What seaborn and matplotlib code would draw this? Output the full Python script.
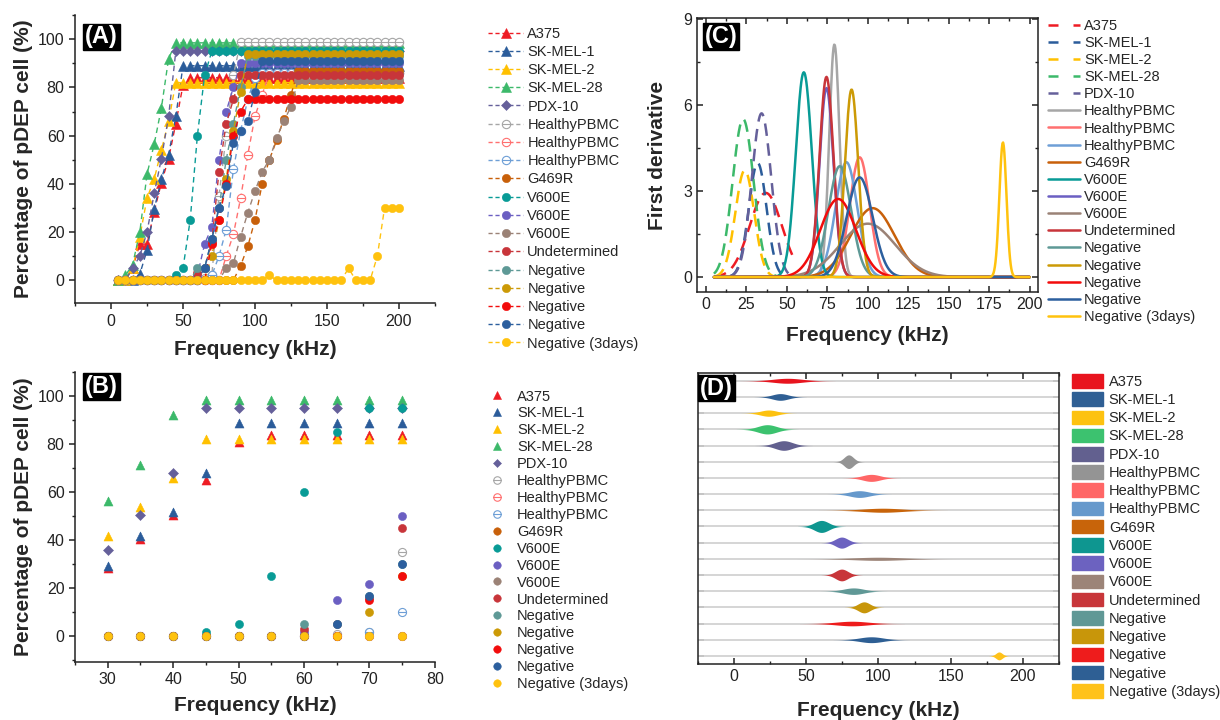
import numpy as np
import pandas as pd
import matplotlib
matplotlib.use("Agg")
import matplotlib.pyplot as plt
import matplotlib.path as mpath
from matplotlib.ticker import MultipleLocator, NullFormatter
from matplotlib.lines import Line2D
from matplotlib.patches import Patch
import seaborn as sns

sns.set_theme(style="ticks")
plt.rcParams["font.family"] = ["Liberation Sans", "DejaVu Sans"]
plt.rcParams["axes.linewidth"] = 1.1
plt.rcParams["axes.edgecolor"] = "#222222"
plt.rcParams["xtick.color"] = "#222222"
plt.rcParams["ytick.color"] = "#222222"
plt.rcParams["xtick.labelsize"] = 11.5
plt.rcParams["ytick.labelsize"] = 11.5

# ---------------- data ----------------
labels = ["A375", "SK-MEL-1", "SK-MEL-2", "SK-MEL-28", "PDX-10",
          "HealthyPBMC", "HealthyPBMC", "HealthyPBMC", "G469R",
          "V600E", "V600E", "V600E", "Undetermined",
          "Negative", "Negative", "Negative", "Negative", "Negative (3days)"]

freq = [5, 10, 15, 20, 25, 30, 35, 40, 45, 50, 55, 60, 65, 70, 75, 80, 85, 90, 95, 100,
        105, 110, 115, 120, 125, 130, 135, 140, 145, 150, 155, 160, 165, 170, 175, 180, 185, 190, 195, 200]

pct_a375 = [0, 0, 5, 15, 15, 28.5, 40.5, 50.5, 65, 81, 84, 84, 84, 84, 84, 84, 84, 84, 84, 84,
            84, 84, 84, 84, 84, 84, 84, 84, 84, 84, 84, 84, 84, 84, 84, 84, 84, 84, 84, 84]
pct_skmel1 = [0, 0, 0, 2.5, 12.5, 29.5, 42, 52, 68, 89, 89, 89, 89, 89, 89, 89, 89, 89, 89, 89,
              89, 89, 89, 89, 89, 89, 89, 89, 89, 89, 89, 89, 89, 89, 89, 89, 89, 89, 89, 89]
pct_skmel2 = [0, 0, 5, 18, 34, 42, 54, 66, 82, 82, 82, 82, 82, 82, 82, 82, 82, 82, 82, 82,
              82, 82, 82, 82, 82, 82, 82, 82, 82, 82, 82, 82, 82, 82, 82, 82, 82, 82, 82, 82]
pct_skmel28 = [0, 2, 6.5, 20, 44, 56.5, 71.5, 92, 98.5, 98.5, 98.5, 98.5, 98.5, 98.5, 98.5, 98.5, 98.5, 98.5, 98.5, 98.5,
               98.5, 98.5, 98.5, 98.5, 98.5, 98.5, 98.5, 98.5, 98.5, 98.5, 98.5, 98.5, 98.5, 98.5, 98.5, 98.5, 98.5, 98.5, 98.5, 98.5]
pct_pdx10 = [0, 0, 5, 10, 20, 36, 50.5, 68, 95, 95, 95, 95, 95, 95, 95, 95, 95, 95, 95, 95,
             95, 95, 95, 95, 95, 95, 95, 95, 95, 95, 95, 95, 95, 95, 95, 95, 95, 95, 95, 95]
pct_pbmc1 = [0, 0, 0, 0, 0, 0, 0, 0, 0, 0, 0, 0, 1, 2, 35, 60, 85, 99, 99, 99,
             99, 99, 99, 99, 99, 99, 99, 99, 99, 99, 99, 99, 99, 99, 99, 99, 99, 99, 99, 99]
pct_pbmc2 = [0, 0, 0, 0, 0, 0, 0, 0, 0, 0, 0, 0, 0, 0, 0, 10, 19, 34, 52, 68,
             77, 86, 86, 86, 86, 86, 86, 86, 86, 86, 86, 86, 86, 86, 86, 86, 86, 86, 86, 86]
pct_pbmc3 = [0, 0, 0, 0, 0, 0, 0, 0, 0, 0, 0, 0, 0, 2, 10, 21, 46, 62, 75, 84,
             86, 86, 86, 86, 86, 86, 86, 86, 86, 86, 86, 86, 86, 86, 86, 86, 86, 86, 86, 86]
pct_g469r = [0, 0, 0, 0, 0, 0, 0, 0, 0, 0, 0, 0, 0, 0, 0, 0, 0, 6, 14, 25,
             40, 50, 58, 67, 77, 87, 87, 87, 87, 87, 87, 87, 87, 87, 87, 87, 87, 87, 87, 87]
pct_v600e1 = [0, 0, 0, 0, 0, 0, 0, 0, 2, 5, 25, 60, 85, 95, 95, 95, 95, 95, 95, 95,
              95, 95, 95, 95, 95, 95, 95, 95, 95, 95, 95, 95, 95, 95, 95, 95, 95, 95, 95, 95]
pct_v600e2 = [0, 0, 0, 0, 0, 0, 0, 0, 0, 0, 0, 2, 15, 22, 50, 70, 80, 90, 90, 90,
              90, 90, 90, 90, 90, 90, 90, 90, 90, 90, 90, 90, 90, 90, 90, 90, 90, 90, 90, 90]
pct_v600e3 = [0, 0, 0, 0, 0, 0, 0, 0, 0, 0, 0, 0, 0, 0, 0, 5, 7, 18, 28, 37,
              45, 50, 59, 66, 72, 83, 83, 83, 83, 83, 83, 83, 83, 83, 83, 83, 83, 83, 83, 83]
pct_undet = [0, 0, 0, 0, 0, 0, 0, 0, 0, 0, 0, 3, 5, 16, 45, 65, 75, 85, 85, 85,
             85, 85, 85, 85, 85, 85, 85, 85, 85, 85, 85, 85, 85, 85, 85, 85, 85, 85, 85, 85]
pct_neg1 = [0, 0, 0, 0, 0, 0, 0, 0, 0, 0, 0, 5, 5, 17, 30, 50, 65, 80, 93, 93,
            93, 93, 93, 93, 93, 93, 93, 93, 93, 93, 93, 93, 93, 93, 93, 93, 93, 93, 93, 93]
pct_neg2 = [0, 0, 0, 0, 0, 0, 0, 0, 0, 0, 0, 0, 0, 10, 25, 42, 62, 78, 94, 94,
            94, 94, 94, 94, 94, 94, 94, 94, 94, 94, 94, 94, 94, 94, 94, 94, 94, 94, 94, 94]
pct_neg3 = [0, 0, 0, 0, 0, 0, 0, 0, 0, 0, 0, 0, 0, 15, 25, 40, 60, 70, 75, 75,
            75, 75, 75, 75, 75, 75, 75, 75, 75, 75, 75, 75, 75, 75, 75, 75, 75, 75, 75, 75]
pct_neg4 = [0, 0, 0, 0, 0, 0, 0, 0, 0, 0, 0, 0, 5, 17, 30, 39, 57, 62, 66, 78,
            91, 91, 91, 91, 91, 91, 91, 91, 91, 91, 91, 91, 91, 91, 91, 91, 91, 91, 91, 91]
pct_neg3days = [0, 0, 0, 0, 0, 0, 0, 0, 0, 0, 0, 0, 0, 0, 0, 0, 0, 0, 0, 0,
                0, 2, 0, 0, 0, 0, 0, 0, 0, 0, 0, 0, 5, 0, 0, 0, 10, 30, 30, 30]

series_pct = [pct_a375, pct_skmel1, pct_skmel2, pct_skmel28, pct_pdx10,
              pct_pbmc1, pct_pbmc2, pct_pbmc3, pct_g469r,
              pct_v600e1, pct_v600e2, pct_v600e3, pct_undet,
              pct_neg1, pct_neg2, pct_neg3, pct_neg4, pct_neg3days]

# first-derivative peak parameters (panels C and D)
peak_center = [37, 32, 24, 23, 34.4, 79.4, 95, 86.8, 103, 60.5, 74.5, 100, 74.5, 82.7, 90, 81.7, 95, 183.5]
peak_height = [2.93, 3.97, 3.72, 5.5, 5.7, 8.1, 4.17, 4.0, 2.4, 7.13, 6.58, 1.86, 6.97, 3.86, 6.53, 2.72, 3.47, 4.69]
peak_sigma = [10, 5.5, 5.8, 6.5, 6, 3.2, 6.1, 6.7, 13.5, 5.0, 4.3, 17, 4.3, 7, 4.1, 11, 8, 2.2]
fit_start = [5, 15, 5, 5, 15, 5, 5, 5, 5, 5, 5, 5, 5, 5, 5, 5, 5, 5]
fit_end = [55, 50, 45, 45, 52, 200, 200, 200, 200, 200, 200, 200, 200, 200, 200, 200, 200, 200]

colors = ["#EE1C24", "#2B5C9A", "#FFC000", "#3CB96A", "#65609A",
          "#A6A6A6", "#FF7070", "#6E9FD6", "#C8600A",
          "#089B96", "#6B5FC2", "#9B8276", "#C8353A",
          "#5E9996", "#CC9A06", "#F20C0C", "#2C5F9E", "#FFC20E"]
d_colors = ["#E8141E", "#2F5F94", "#FDC210", "#3CC26F", "#62608F",
            "#949494", "#FF6666", "#6699CC", "#C8640A",
            "#0E9690", "#6C62C0", "#9C8478", "#C8363A",
            "#609896", "#C8960A", "#EE1C1C", "#2E5F94", "#FFC21A"]

# ---------------- markers ----------------
circ = mpath.Path.unit_circle()
ominus = mpath.Path(np.concatenate([circ.vertices, [[-1, 0], [1, 0]]]),
                    np.concatenate([circ.codes, [mpath.Path.MOVETO, mpath.Path.LINETO]]))
markers = ["^", "^", "^", "^", "D", ominus, ominus, ominus] + ["o"] * 10
msizes = [6.5, 6.5, 6.5, 6.5, 4.8, 6, 6, 6] + [6] * 10
hollow = [False] * 5 + [True] * 3 + [False] * 10

fig = plt.figure(figsize=(12.2, 7.2), dpi=100)
axA = fig.add_axes([0.0615, 0.579, 0.295, 0.400])
axB = fig.add_axes([0.0615, 0.081, 0.295, 0.402])
axC = fig.add_axes([0.5713, 0.5944, 0.2793, 0.3806])
axD = fig.add_axes([0.5721, 0.0778, 0.2959, 0.4046])

label_font = dict(fontsize=15, fontweight="bold")

def panel_tag(ax, text, x, y):
    ax.text(x, y, text, transform=ax.transAxes, color="white", fontsize=17,
            fontweight="bold", ha="left", va="top", zorder=20,
            bbox=dict(facecolor="black", edgecolor="black", pad=1.2))

# ---------------- Panel A ----------------
for i in range(18):
    sns.lineplot(x=freq, y=series_pct[i], ax=axA, color=colors[i], marker=markers[i],
                 markersize=msizes[i], linestyle=(0, (4, 3)), linewidth=1.0,
                 markeredgecolor=colors[i], markeredgewidth=0.8 if hollow[i] else 0.4,
                 markerfacecolor="white" if hollow[i] else colors[i],
                 estimator=None, sort=False, legend=False)
axA.set_xlim(-25, 225)
axA.set_ylim(-9.5, 110)
axA.xaxis.set_major_locator(MultipleLocator(50))
axA.xaxis.set_minor_locator(MultipleLocator(25))
axA.yaxis.set_major_locator(MultipleLocator(20))
axA.yaxis.set_minor_locator(MultipleLocator(10))
sns.despine(ax=axA)
axA.tick_params(which="major", direction="out", length=4, width=1.1)
axA.tick_params(which="minor", direction="out", length=2.5, width=1.0)
axA.set_xlabel("Frequency (kHz)", va="center", **label_font)
axA.set_ylabel("Percentage of pDEP cell (%)", va="center", **label_font)
axA.xaxis.set_label_coords(0.5, -0.16)
axA.yaxis.set_label_coords(-0.142, 0.5)
panel_tag(axA, "(A)", 0.028, 0.965)

handlesA = [Line2D([], [], color=colors[i], linestyle=(0, (3, 2)), linewidth=1.0,
                   marker=markers[i], markersize=msizes[i],
                   markerfacecolor="white" if hollow[i] else colors[i],
                   markeredgecolor=colors[i], markeredgewidth=0.8 if hollow[i] else 0.4)
            for i in range(18)]
axA.legend(handlesA, labels, loc="upper left", bbox_to_anchor=(0.400, 0.963),
           bbox_transform=fig.transFigure, frameon=False, fontsize=10.5,
           handlelength=2.4, handletextpad=0.3, labelspacing=0.29,
           borderpad=0, borderaxespad=0)

# ---------------- Panel B ----------------
for i in range(18):
    fB = [f for f in freq if 30 <= f <= 75]
    vB = [v for f, v in zip(freq, series_pct[i]) if 30 <= f <= 75]
    size = 42 if markers[i] == "^" else (26 if markers[i] == "D" else 34)
    if hollow[i]:
        sns.scatterplot(x=fB, y=vB, ax=axB, color="white", edgecolor=colors[i],
                        marker=markers[i], s=size, linewidth=0.8, legend=False)
    else:
        sns.scatterplot(x=fB, y=vB, ax=axB, color=colors[i], edgecolor=colors[i],
                        marker=markers[i], s=size, linewidth=0.4, legend=False)
axB.set_xlim(25, 80)
axB.set_ylim(-10.5, 110)
axB.xaxis.set_major_locator(MultipleLocator(10))
axB.xaxis.set_minor_locator(MultipleLocator(5))
axB.yaxis.set_major_locator(MultipleLocator(20))
axB.yaxis.set_minor_locator(MultipleLocator(10))
sns.despine(ax=axB)
axB.tick_params(which="major", direction="out", length=4, width=1.1)
axB.tick_params(which="minor", direction="out", length=2.5, width=1.0)
axB.set_xlabel("Frequency (kHz)", va="center", **label_font)
axB.set_ylabel("Percentage of pDEP cell (%)", va="center", **label_font)
axB.xaxis.set_label_coords(0.5, -0.153)
axB.yaxis.set_label_coords(-0.142, 0.5)
panel_tag(axB, "(B)", 0.028, 0.99)

handlesB = [Line2D([], [], linestyle="none", marker=markers[i],
                   markersize=msizes[i] * 0.9,
                   markerfacecolor="white" if hollow[i] else colors[i],
                   markeredgecolor=colors[i], markeredgewidth=0.8 if hollow[i] else 0.4)
            for i in range(18)]
axB.legend(handlesB, labels, loc="upper left", bbox_to_anchor=(0.4016, 0.459),
           bbox_transform=fig.transFigure, frameon=False, fontsize=10.5,
           handlelength=1.0, handletextpad=0.85, labelspacing=0.2,
           borderpad=0, borderaxespad=0)

# ---------------- Panel C ----------------
for i in range(18):
    xs = np.linspace(fit_start[i], fit_end[i], 500)
    ys = peak_height[i] * np.exp(-0.5 * ((xs - peak_center[i]) / peak_sigma[i]) ** 2)
    ls = (0, (5, 3)) if i < 5 else "-"
    sns.lineplot(x=xs, y=ys, ax=axC, color=colors[i], linestyle=ls, linewidth=1.8,
                 estimator=None, sort=False, legend=False)
axC.set_xlim(-5.5, 205)
axC.set_ylim(-0.52, 9.02)
axC.xaxis.set_major_locator(MultipleLocator(25))
axC.xaxis.set_minor_locator(MultipleLocator(12.5))
axC.yaxis.set_major_locator(MultipleLocator(3))
axC.yaxis.set_minor_locator(MultipleLocator(1.5))
axC.tick_params(which="both", direction="in", top=True, right=True)
axC.tick_params(which="major", length=4, width=1.1)
axC.tick_params(which="minor", length=2.5, width=1.0)
axC.set_xlabel("Frequency (kHz)", va="center", **label_font)
axC.set_ylabel("First derivative", va="center", **label_font)
axC.xaxis.set_label_coords(0.5, -0.157)
axC.yaxis.set_label_coords(-0.117, 0.5)
panel_tag(axC, "(C)", 0.023, 0.974)

handlesC = [Line2D([], [], color=colors[i], linewidth=1.8,
                   linestyle=(0, (4, 6)) if i < 5 else "-") for i in range(18)]
axC.legend(handlesC, labels, loc="upper left", bbox_to_anchor=(0.8593, 0.974),
           bbox_transform=fig.transFigure, frameon=False, fontsize=10.5,
           handlelength=2.2, handletextpad=0.25, labelspacing=0.215,
           borderpad=0, borderaxespad=0)

# ---------------- Panel D ----------------
axD.hlines(range(18), -25, 225, color="#D2D2D2", linewidth=1.3, zorder=1)
for i in range(18):
    c, s, h = peak_center[i], peak_sigma[i], peak_height[i]
    xs = np.linspace(c - 3.3 * s, c + 3.3 * s, 400)
    half = 0.052 * h * np.exp(-0.5 * ((xs - c) / s) ** 2)
    axD.fill_between(xs, i - half, i + half, color=d_colors[i], linewidth=0, zorder=3)
axD.set_xlim(-25, 225)
axD.set_ylim(17.5, -0.5)
axD.set_yticks(range(18))
axD.yaxis.set_major_formatter(NullFormatter())
axD.xaxis.set_major_locator(MultipleLocator(50))
axD.xaxis.set_minor_locator(MultipleLocator(25))
axD.tick_params(which="both", direction="in", top=True, right=True)
axD.tick_params(which="major", length=4, width=1.1)
axD.tick_params(which="minor", length=2.5, width=1.0)
axD.set_xlabel("Frequency (kHz)", va="center", **label_font)
axD.xaxis.set_label_coords(0.5, -0.158)
panel_tag(axD, "(D)", 0.006, 0.986)

handlesD = [Patch(facecolor=d_colors[i], edgecolor=d_colors[i]) for i in range(18)]
axD.legend(handlesD, labels, loc="upper left", bbox_to_anchor=(0.8784, 0.4805),
           bbox_transform=fig.transFigure, frameon=False, fontsize=10.5,
           handlelength=2.15, handleheight=1.05, handletextpad=0.4, labelspacing=0.24,
           borderpad=0, borderaxespad=0)

fig.savefig("out.png", dpi=100)
